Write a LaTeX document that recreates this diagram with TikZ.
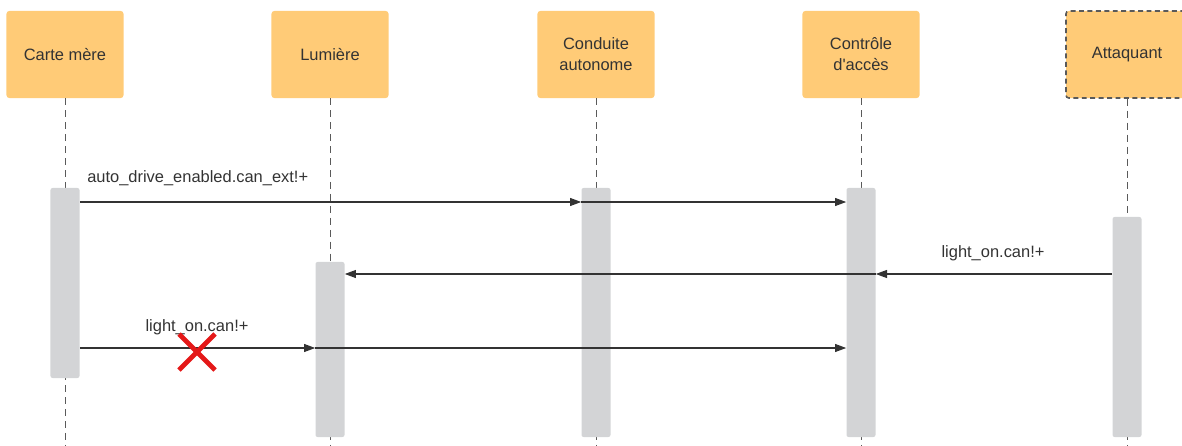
\documentclass[tikz,border=0pt]{standalone}
\usepackage{fontspec}
\setmainfont{Liberation Sans}
\usetikzlibrary{positioning,arrows.meta,calc}
\definecolor{headf}{RGB}{255,203,119}
\definecolor{barf}{RGB}{211,212,214}
\definecolor{inkg}{RGB}{51,51,51}
\definecolor{lifeg}{RGB}{90,90,90}
\definecolor{crossr}{RGB}{228,24,24}

\begin{document}
\begin{tikzpicture}[
  x=0.025cm, y=-0.025cm,
  font=\fontsize{11.7}{14.9}\selectfont, text=inkg,
  head/.style={fill=headf, rounded corners=2pt, inner sep=2pt, align=center,
               minimum width=2.925cm, minimum height=2.175cm},
  bar/.style={fill=barf, rounded corners=1.5pt, inner sep=0pt, minimum width=0.725cm},
  life/.style={draw=lifeg, line width=0.6pt, dash pattern=on 5pt off 3.5pt},
  msg/.style={-{Triangle[length=2.8mm, width=2mm]}, draw=inkg, line width=0.75pt},
  lbl/.style={inner sep=0pt},
  xmark/.style={draw=crossr, line width=3.4pt},
]
\useasboundingbox (0,0) rectangle (1182,446);

% ---------- participants ----------
\node[head] (cm) at (65,54.5) {Carte mère};
\node[head] (lm) at (330,54.5) {Lumière};
\node[head] (cd) at (596,54.5) {Conduite\\autonome};
\node[head] (ac) at (861,54.5) {Contrôle\\d\textquotesingle accès};
\node[head, minimum width=3.05cm, draw=lifeg, line width=1.1pt,
      dash pattern=on 3.5pt off 2.5pt] (at) at (1127,54.5) {Attaquant};

% ---------- lifelines ----------
\coordinate (bot) at (0,446);
\foreach \p in {cm,lm,cd,ac,at}
  \draw[life] (\p.south) -- (\p.south |- bot);

% ---------- activation bars ----------
\node[bar, minimum height=4.75cm]  (cmbar) at (65,283) {};
\node[bar, minimum height=4.375cm] (lmbar) at (330,349.5) {};
\node[bar, minimum height=6.225cm] (cdbar) at (596,312.5) {};
\node[bar, minimum height=6.225cm] (acbar) at (861,312.5) {};
\node[bar, minimum height=5.5cm]   (atbar) at (1127,327) {};

% ---------- messages ----------
\coordinate (r1) at (0,202);
\coordinate (r2) at (0,274);
\coordinate (r3) at (0,348);

\draw[msg] (cmbar.east |- r1) -- (cdbar.west |- r1);
\draw[msg] (cdbar.west |- r1) -- (acbar.west |- r1);
\node[lbl, anchor=west] (m1) at (87,178) {auto\_drive\_enabled.can\_ext!+};

\draw[msg] (atbar.west |- r2) -- (acbar.east |- r2);
\draw[msg] (acbar.east |- r2) -- (lmbar.east |- r2);
\node[lbl] (m2) at (993,253.5) {light\_on.can!+};

\draw[msg] (cmbar.east |- r3) -- (lmbar.west |- r3);
\draw[msg] (lmbar.west |- r3) -- (acbar.west |- r3);
\node[lbl] (m3) at (197,327.5) {light\_on.can!+};

% ---------- blocked message ----------
\coordinate (xm) at (197,352);
\draw[xmark] ($(xm)+(-18,-18)$) -- ($(xm)+(18,18)$);
\draw[xmark] ($(xm)+(18,-18)$) -- ($(xm)+(-18,18)$);

\end{tikzpicture}
\end{document}
